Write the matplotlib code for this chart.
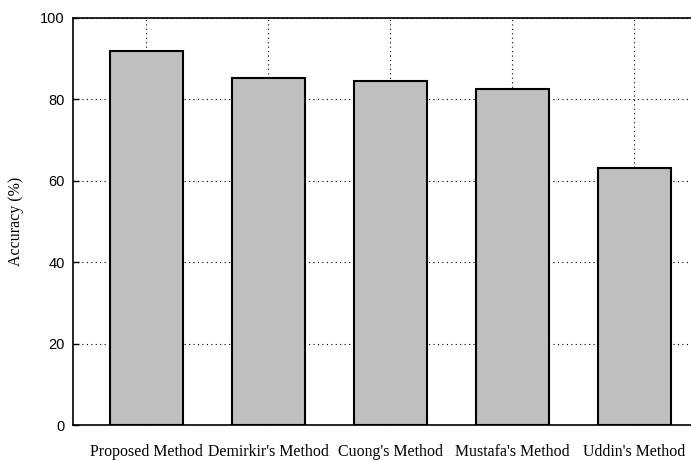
import matplotlib
matplotlib.use("Agg")
import matplotlib.pyplot as plt

categories = ["Proposed Method", "Demirkir's Method", "Cuong's Method", "Mustafa's Method", "Uddin's Method"]
accuracy = [91.9, 85.2, 84.5, 82.4, 63.1]
yticks = [0, 20, 40, 60, 80, 100]

W, H = 691, 461
fig = plt.figure(figsize=(W / 100, H / 100), dpi=100)
left, right, top, bottom = 73.3, 707.5, 17.5, 425.0
ax = fig.add_axes([left / W, 1 - bottom / H, (right - left) / W, (bottom - top) / H])

x = list(range(1, len(categories) + 1))
ax.bar(x, accuracy, width=0.6, color="#bfbfbf", edgecolor="black", linewidth=1.5, zorder=3)
ax.set_xlim(0.4, 5.6)
ax.set_ylim(0, 100)
ax.set_yticks(yticks)
ax.set_xticks(x)
ax.set_xticklabels(categories, family="Liberation Serif", fontsize=11.4)
for lab in ax.get_yticklabels():
    lab.set_family("Liberation Sans")
    lab.set_fontsize(10.5)
ax.tick_params(direction="in", length=4, width=1, pad=6)
ax.tick_params(axis="x", pad=14)
ax.grid(True, linestyle=(0, (1, 3)), color="black", linewidth=0.8, zorder=0)
ax.set_axisbelow(True)
ax.set_ylabel("Accuracy (%)", family="Liberation Serif", fontsize=11.5, labelpad=12)
for s in ax.spines.values():
    s.set_linewidth(1.2)
fig.savefig("out.png", dpi=100)
